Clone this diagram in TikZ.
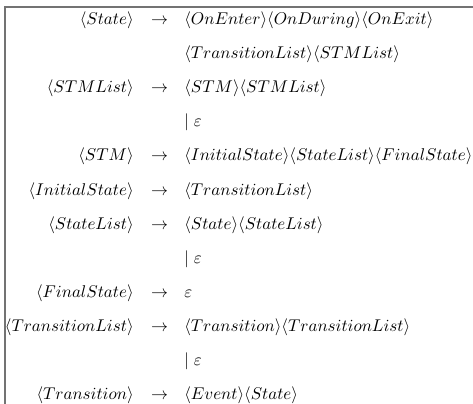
\documentclass[tikz,border=0pt]{standalone}
\usepackage{amsmath}
\begin{document}
\begin{tikzpicture}[x=0.588pt,y=-0.588pt,
  lhs/.style={anchor=base east,inner sep=0pt,font=\fontsize{10}{12}\selectfont},
  arr/.style={anchor=base,inner sep=0pt,font=\fontsize{10}{12}\selectfont},
  rhs/.style={anchor=base west,inner sep=0pt,font=\fontsize{10}{12}\selectfont},
  frame/.style={draw=black!55,line width=1.2pt}]
\useasboundingbox (0,0) rectangle (473,404);
\coordinate (tl) at (5,6.8);
\coordinate (tr) at (473,6.8);
\coordinate (bl) at (5,404);
\draw[frame] (tr) -- (tl) -- (bl);
% rows: baseline y = 25 + 34 i
\node[lhs] (l0) at (134,25) {$\langle State\rangle$};
\node[arr] (a0) at (159.5,25) {$\rightarrow$};
\node[rhs] (r0) at (184,25) {$\langle OnEnter\rangle\langle OnDuring\rangle\langle OnExit\rangle$};
\node[rhs] (r1) at (184,59) {$\langle TransitionList\rangle\langle STMList\rangle$};
\node[lhs] (l2) at (134,93) {$\langle STMList\rangle$};
\node[arr] (a2) at (159.5,93) {$\rightarrow$};
\node[rhs] (r2) at (184,93) {$\langle STM\rangle\langle STMList\rangle$};
\node[rhs] (r3) at (184,127) {$\mid\varepsilon$};
\node[lhs] (l4) at (134,161) {$\langle STM\rangle$};
\node[arr] (a4) at (159.5,161) {$\rightarrow$};
\node[rhs] (r4) at (184,161) {$\langle InitialState\rangle\langle StateList\rangle\langle FinalState\rangle$};
\node[lhs] (l5) at (134,195) {$\langle InitialState\rangle$};
\node[arr] (a5) at (159.5,195) {$\rightarrow$};
\node[rhs] (r5) at (184,195) {$\langle TransitionList\rangle$};
\node[lhs] (l6) at (134,229) {$\langle StateList\rangle$};
\node[arr] (a6) at (159.5,229) {$\rightarrow$};
\node[rhs] (r6) at (184,229) {$\langle State\rangle\langle StateList\rangle$};
\node[rhs] (r7) at (184,263) {$\mid\varepsilon$};
\node[lhs] (l8) at (134,297) {$\langle FinalState\rangle$};
\node[arr] (a8) at (159.5,297) {$\rightarrow$};
\node[rhs] (r8) at (184,297) {$\varepsilon$};
\node[lhs] (l9) at (134,331) {$\langle TransitionList\rangle$};
\node[arr] (a9) at (159.5,331) {$\rightarrow$};
\node[rhs] (r9) at (184,331) {$\langle Transition\rangle\langle TransitionList\rangle$};
\node[rhs] (r10) at (184,365) {$\mid\varepsilon$};
\node[lhs] (l11) at (134,399) {$\langle Transition\rangle$};
\node[arr] (a11) at (159.5,399) {$\rightarrow$};
\node[rhs] (r11) at (184,399) {$\langle Event\rangle\langle State\rangle$};
\end{tikzpicture}
\end{document}
